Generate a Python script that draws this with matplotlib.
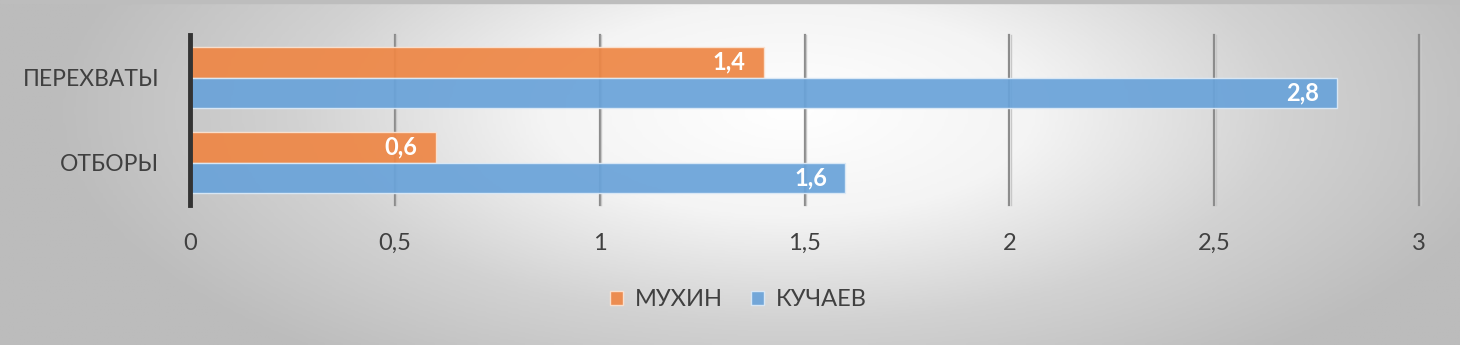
import numpy as np
import matplotlib.pyplot as plt
from matplotlib.colors import LinearSegmentedColormap

categories = ['ОТБОРЫ', 'ПЕРЕХВАТЫ']
series_names = ['МУХИН', 'КУЧАЕВ']
mukhin = [0.6, 1.4]
kuchaev = [1.6, 2.8]
ticks = [0, 0.5, 1, 1.5, 2, 2.5, 3]
tick_labels = ['0', '0,5', '1', '1,5', '2', '2,5', '3']

plt.rcParams['font.family'] = ['Lato', 'DejaVu Sans']

fig = plt.figure(figsize=(14.6, 3.45), dpi=100)

# radial gradient background
bg = fig.add_axes([0, 0, 1, 1], zorder=-10)
xx, yy = np.meshgrid(np.linspace(0, 1460, 400), np.linspace(0, 345, 120))
r = np.sqrt(((xx - 790) / 740) ** 2 + ((yy - 110) / 320) ** 2)
cmap = LinearSegmentedColormap.from_list('bg', ['#ffffff', '#f4f4f4', '#d2d2d2', '#bcbcbc'])
bg.imshow(np.clip(r, 0, 1), cmap=cmap, aspect='auto', extent=[0, 1, 0, 1], vmin=0, vmax=1)
bg.axhspan(0.99, 1.0, color='#bdbdbd')
bg.set_xlim(0, 1)
bg.set_ylim(0, 1)
bg.axis('off')

ax = fig.add_axes([190 / 1460, 1 - 205 / 345, (1419 - 190) / 1460, 170 / 345])
ax.patch.set_alpha(0)

y = np.arange(len(categories))
h = 0.36
orange = '#ee8746'
blue = '#6aa3d9'

ax.set_xlim(0, 3)
ax.set_ylim(-0.5, 1.5)
for t in ticks[1:]:
    ax.axvline(t, color='#8c8c8c', lw=1.6, zorder=1, clip_on=False)
    ax.axvline(t + 0.004, color='#c8c8c8', lw=1.0, zorder=1, clip_on=False)

b1 = ax.barh(y + h / 2, mukhin, height=h, color=orange, alpha=0.93, edgecolor='#fbe3d2', lw=1, zorder=2,
             label=series_names[0])
b2 = ax.barh(y - h / 2, kuchaev, height=h, color=blue, alpha=0.93, edgecolor='#dceaf7', lw=1, zorder=2,
             label=series_names[1])

for bars, vals in ((b1, mukhin), (b2, kuchaev)):
    for bar, v in zip(bars, vals):
        ax.text(v - 0.045, bar.get_y() + bar.get_height() / 2, f'{v:.1f}'.replace('.', ','),
                ha='right', va='center', color='white', fontsize=17, fontweight='bold', zorder=3)

ax.axvline(0, color='#333333', lw=3.5, zorder=4, clip_on=False)

ax.set_yticks(y)
ax.set_yticklabels(categories, fontsize=16.5, color='#404040')
ax.set_xticks(ticks)
ax.set_xticklabels(tick_labels, fontsize=17, color='#404040')
ax.tick_params(axis='y', length=0, pad=22)
ax.tick_params(axis='x', length=0, pad=20)
for s in ax.spines.values():
    s.set_visible(False)

fig.legend(handles=[b1, b2], labels=series_names, loc='center', bbox_to_anchor=(738 / 1460, 1 - 300 / 345),
           ncol=2, frameon=False, fontsize=17, labelcolor='#404040', handlelength=0.55, handleheight=0.55,
           handletextpad=0.5, columnspacing=1.2)

fig.savefig('out.png', dpi=100)
